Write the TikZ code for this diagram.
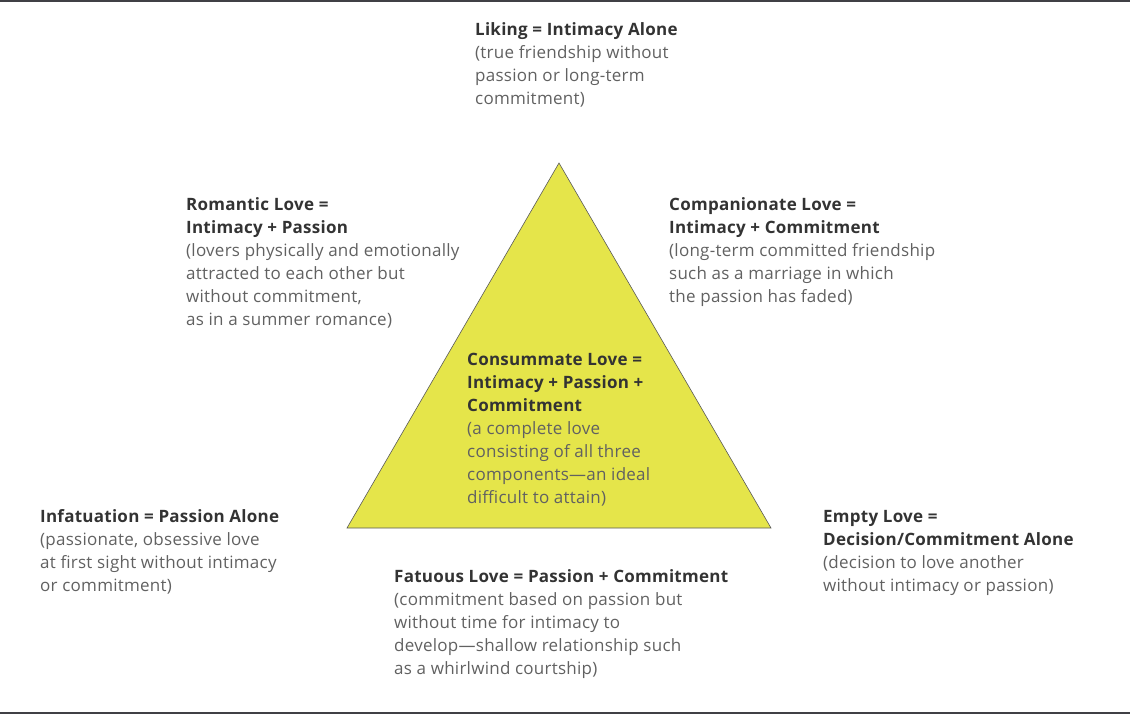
\documentclass[tikz,border=0pt]{standalone}
\usepackage{fontspec}
\setmainfont{Open Sans}[LetterSpace=1.5]
\usepackage{xcolor}
\definecolor{loveyellow}{rgb}{0.90,0.90,0.29}
\definecolor{headgray}{rgb}{0.20,0.20,0.20}
\definecolor{bodygray}{rgb}{0.38,0.38,0.38}
\definecolor{rulegray}{rgb}{0.25,0.25,0.27}
\tikzset{
  lovetext/.style={anchor=base west, align=left, inner sep=0pt, text=bodygray,
    font=\fontsize{17}{23}\selectfont}
}
\newcommand{\lovehead}[1]{{\bfseries\color{headgray}#1}}

\begin{document}
\begin{tikzpicture}[x=1pt,y=-1pt]
    \useasboundingbox (0,0) rectangle (1130,714);
    % Linien oben und unten
    \draw[rulegray, line width=2pt] (0,1) -- (1130,1);
    \draw[rulegray, line width=2pt] (0,713) -- (1130,713);
    % Dreieck
    \draw[fill=loveyellow, draw=gray!70!black, line width=0.6pt]
        (559,163) -- (771,528) -- (347,528) -- cycle;
    % Texte (Anker = Grundlinie der letzten Zeile)
    \node[lovetext] (liking) at (475,105) {\lovehead{Liking = Intimacy Alone}\\(true friendship without\\passion or long-term\\commitment)};
    \node[lovetext] (romantic) at (186,325) {\lovehead{Romantic Love =}\\\lovehead{Intimacy + Passion}\\(lovers physically and emotionally\\attracted to each other but\\without commitment,\\as in a summer romance)};
    \node[lovetext] (companionate) at (669,302) {\lovehead{Companionate Love =}\\\lovehead{Intimacy + Commitment}\\(long-term committed friendship\\such as a marriage in which\\the passion has faded)};
    \node[lovetext] (consummate) at (467,503) {\lovehead{Consummate Love =}\\\lovehead{Intimacy + Passion +}\\\lovehead{Commitment}\\(a complete love\\consisting of all three\\components---an ideal\\difficult to attain)};
    \node[lovetext] (infatuation) at (40,591) {\lovehead{Infatuation = Passion Alone}\\(passionate, obsessive love\\at first sight without intimacy\\or commitment)};
    \node[lovetext] (empty) at (823,591) {\lovehead{Empty Love =}\\\lovehead{Decision/Commitment Alone}\\(decision to love another\\without intimacy or passion)};
    \node[lovetext] (fatuous) at (394,674) {\lovehead{Fatuous Love = Passion + Commitment}\\(commitment based on passion but\\without time for intimacy to\\develop---shallow relationship such\\as a whirlwind courtship)};
\end{tikzpicture}
\end{document}
